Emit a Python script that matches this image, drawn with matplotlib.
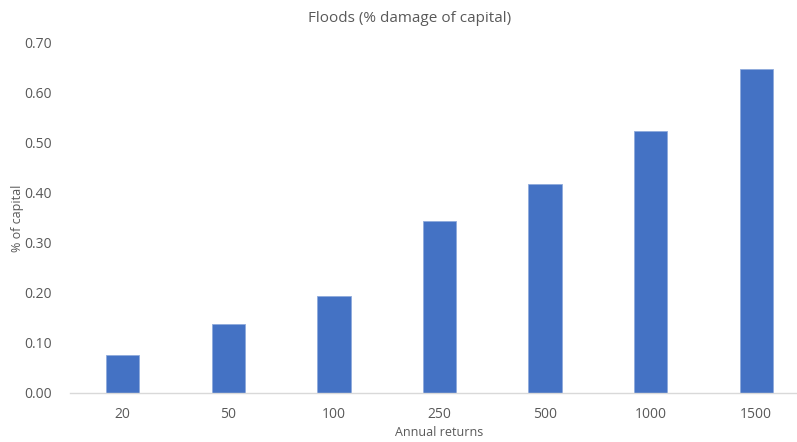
import matplotlib
matplotlib.use("Agg")
import matplotlib.pyplot as plt
import numpy as np

categories = ["20", "50", "100", "250", "500", "1000", "1500"]
values = [0.076, 0.137, 0.194, 0.343, 0.416, 0.523, 0.647]
yticks = [0.0, 0.1, 0.2, 0.3, 0.4, 0.5, 0.6, 0.7]

plt.rcParams["font.family"] = ["Open Sans", "DejaVu Sans"]

W, H = 797, 442
fig = plt.figure(figsize=(W / 100, H / 100), dpi=100)
left, right, bottom, top = 70, 809, 393, 42
ax = fig.add_axes([left / W, (H - bottom) / H, (right - left) / W, (bottom - top) / H])

x = np.arange(len(categories))
ax.bar(x, values, width=0.315, color="#4472C4", edgecolor="#8FAADC", linewidth=0.6)

ax.set_xlim(-0.5, len(categories) - 0.5)
ax.set_ylim(0, 0.70)
ax.set_xticks(x)
ax.set_xticklabels(categories)
ax.set_yticks(yticks)
ax.set_yticklabels([f"{v:.2f}" for v in yticks])

for s in ["top", "right", "left"]:
    ax.spines[s].set_visible(False)
ax.spines["bottom"].set_color("#D9D9D9")
ax.spines["bottom"].set_linewidth(1.0)
ax.tick_params(axis="both", length=0, colors="#595959", labelsize=10)
ax.tick_params(axis="x", pad=10)
ax.tick_params(axis="y", pad=13)

fig.text(410 / W, 1 - 18 / H, "Floods (% damage of capital)", ha="center", va="center",
         fontsize=11, color="#595959")
fig.text(439 / W, 1 - 432 / H, "Annual returns", ha="center", va="center",
         fontsize=9, color="#595959")
fig.text(18 / W, 1 - 218 / H, "% of capital", ha="center", va="center", rotation=90,
         fontsize=9, color="#595959")

fig.savefig("out.png", dpi=100, facecolor="white")
